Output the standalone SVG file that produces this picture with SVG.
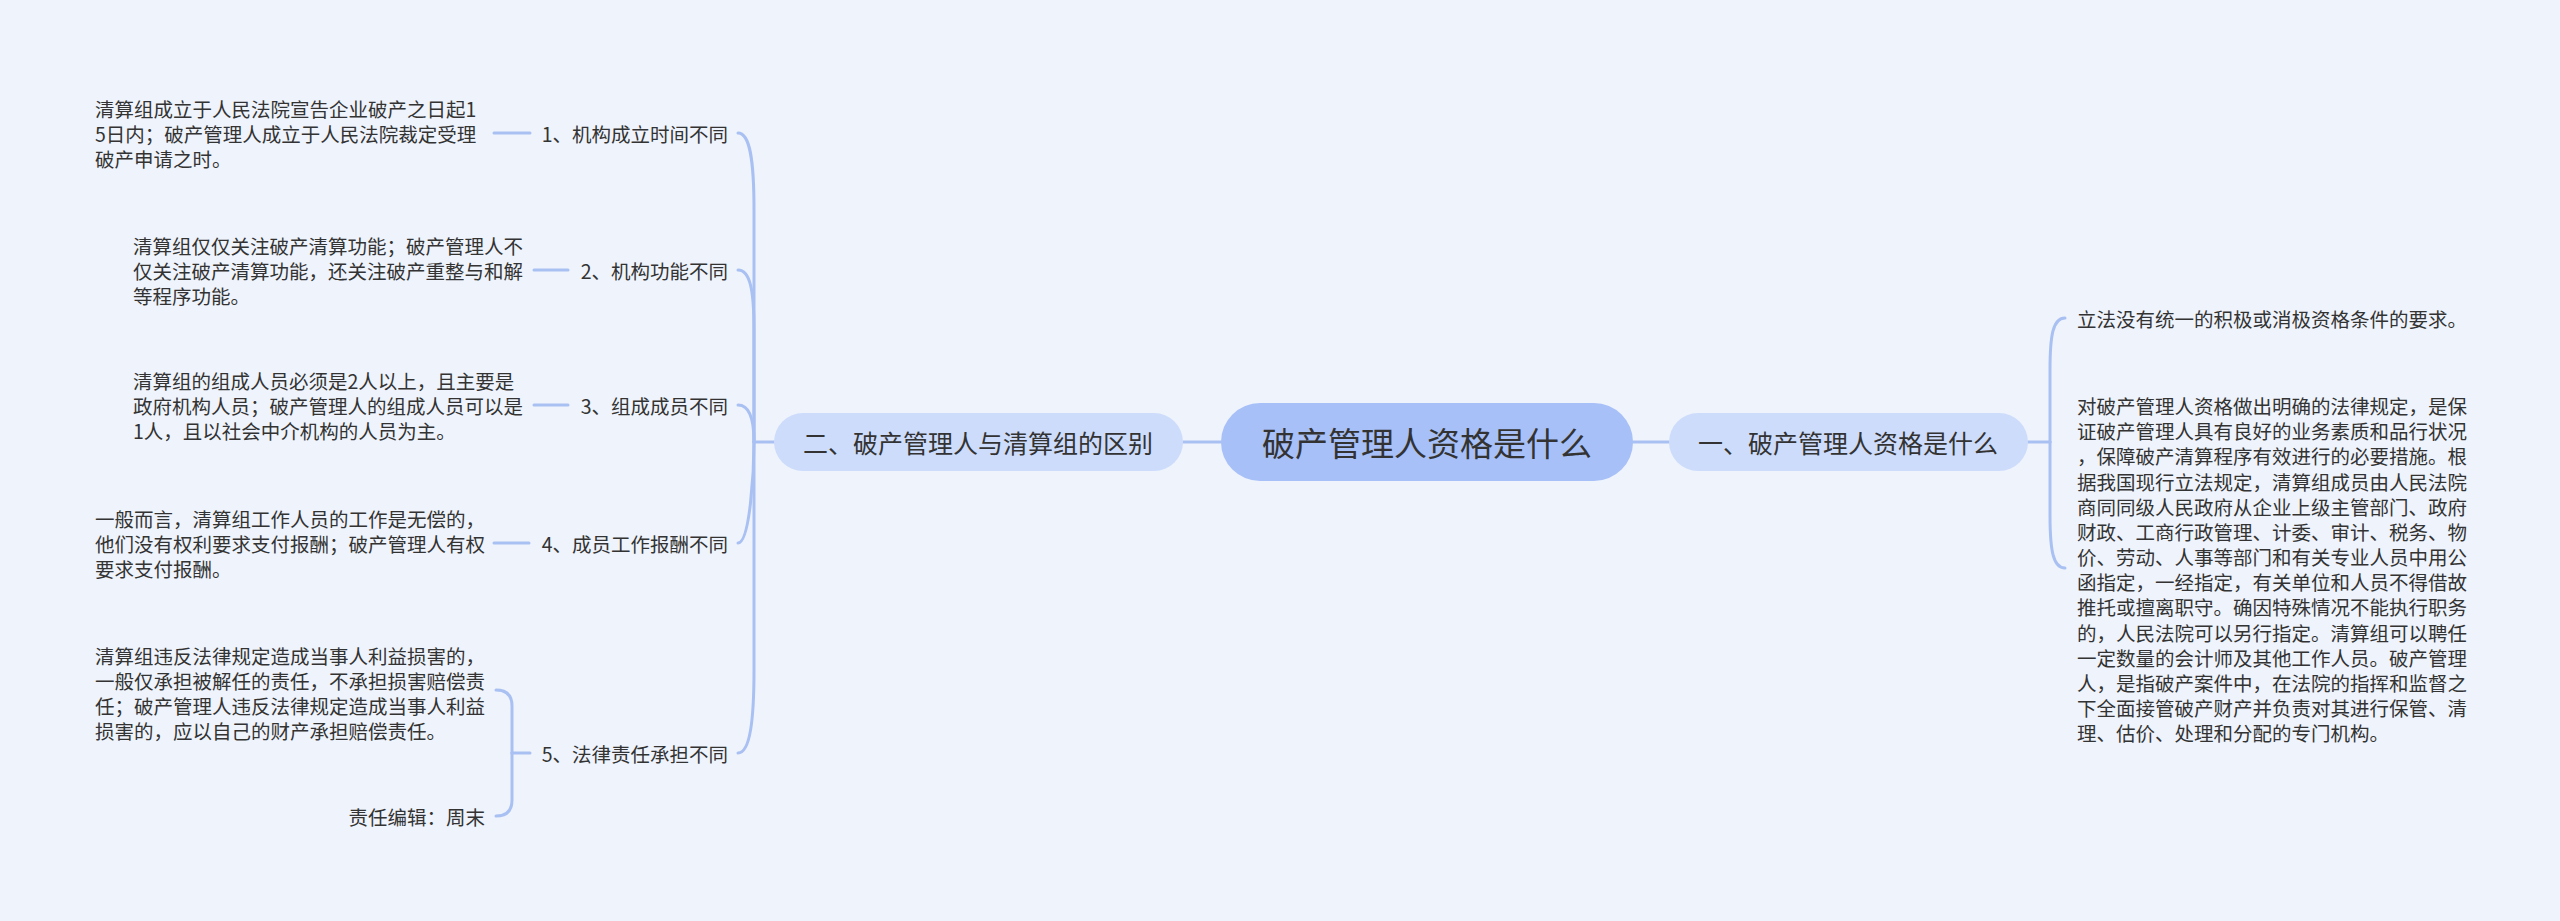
<svg xmlns="http://www.w3.org/2000/svg" width="2560" height="921" viewBox="0 0 2560 921">
<style>
.t{font-family:"Noto Sans CJK SC","Noto Sans",sans-serif;fill:#333333;dominant-baseline:central}
.s{font-size:19.5px}
.m{font-size:25px}
.c{font-size:33px}
.ln{fill:none;stroke:#a9c0f2;stroke-width:3;stroke-linecap:round}
</style>
<rect x="0" y="0" width="2560" height="921" fill="#eff3fc"/>
<g id="connectors" class="ln">
<path d="M1183 442 H1221"/>
<path d="M1633 442 H1669"/>
<path d="M774 442 H754"/>
<path d="M754 442 V210 C754 160 750 133 738 133"/>
<path d="M754 442 V330 C754 290 750 270 738 270"/>
<path d="M754 442 C754 420 750 405 738 405"/>
<path d="M754 442 C754 470 750 543 738 543"/>
<path d="M754 442 V670 C754 720 750 753 738 753"/>
<path d="M530 133 H494"/>
<path d="M568 270 H534"/>
<path d="M568 405 H534"/>
<path d="M529 543 H494"/>
<path d="M530 753 H512"/>
<path d="M512 753 V706 Q512 690 496 690"/>
<path d="M512 753 V800 Q512 816 496 816"/>
<path d="M2028 442 H2050"/>
<path d="M2050 442 V370 C2050 335 2053 318 2065 318"/>
<path d="M2050 442 V515 C2050 550 2053 568 2065 568"/>
</g>
<g id="center">
<rect x="1221" y="403" width="412" height="78" rx="39" fill="#a7c0f8"/>
<text class="t c" x="1427" y="442" text-anchor="middle">破产管理人资格是什么</text>
</g>
<g id="node-er">
<rect x="774" y="413" width="409" height="58" rx="29" fill="#cddcfb"/>
<text class="t m" x="978" y="442" text-anchor="middle">二、破产管理人与清算组的区别</text>
</g>
<g id="node-yi">
<rect x="1669" y="413" width="359" height="58" rx="29" fill="#cddcfb"/>
<text class="t m" x="1848" y="442" text-anchor="middle">一、破产管理人资格是什么</text>
</g>
<g id="label-1"><text class="t s" x="728" y="133" text-anchor="end">1、机构成立时间不同</text></g>
<g id="label-2"><text class="t s" x="728" y="270" text-anchor="end">2、机构功能不同</text></g>
<g id="label-3"><text class="t s" x="728" y="405" text-anchor="end">3、组成成员不同</text></g>
<g id="label-4"><text class="t s" x="728" y="543" text-anchor="end">4、成员工作报酬不同</text></g>
<g id="label-5"><text class="t s" x="728" y="753" text-anchor="end">5、法律责任承担不同</text></g>
<g id="text-1"><text class="t s">
<tspan x="95" y="108">清算组成立于人民法院宣告企业破产之日起1</tspan>
<tspan x="95" y="133">5日内；破产管理人成立于人民法院裁定受理</tspan>
<tspan x="95" y="158">破产申请之时。</tspan>
</text></g>
<g id="text-2"><text class="t s">
<tspan x="133" y="245">清算组仅仅关注破产清算功能；破产管理人不</tspan>
<tspan x="133" y="270">仅关注破产清算功能，还关注破产重整与和解</tspan>
<tspan x="133" y="295">等程序功能。</tspan>
</text></g>
<g id="text-3"><text class="t s">
<tspan x="133" y="380">清算组的组成人员必须是2人以上，且主要是</tspan>
<tspan x="133" y="405">政府机构人员；破产管理人的组成人员可以是</tspan>
<tspan x="133" y="430">1人，且以社会中介机构的人员为主。</tspan>
</text></g>
<g id="text-4"><text class="t s">
<tspan x="95" y="518">一般而言，清算组工作人员的工作是无偿的，</tspan>
<tspan x="95" y="543">他们没有权利要求支付报酬；破产管理人有权</tspan>
<tspan x="95" y="568">要求支付报酬。</tspan>
</text></g>
<g id="text-5"><text class="t s">
<tspan x="95" y="655">清算组违反法律规定造成当事人利益损害的，</tspan>
<tspan x="95" y="680">一般仅承担被解任的责任，不承担损害赔偿责</tspan>
<tspan x="95" y="705">任；破产管理人违反法律规定造成当事人利益</tspan>
<tspan x="95" y="730">损害的，应以自己的财产承担赔偿责任。</tspan>
</text></g>
<g id="editor"><text class="t s" x="485" y="816" text-anchor="end">责任编辑：周末</text></g>
<g id="text-r1"><text class="t s" x="2077" y="318">立法没有统一的积极或消极资格条件的要求。</text></g>
<g id="text-r2"><text class="t s">
<tspan x="2077" y="405">对破产管理人资格做出明确的法律规定，是保</tspan>
<tspan x="2077" y="430">证破产管理人具有良好的业务素质和品行状况</tspan>
<tspan x="2077" y="455">，保障破产清算程序有效进行的必要措施。根</tspan>
<tspan x="2077" y="480.5">据我国现行立法规定，清算组成员由人民法院</tspan>
<tspan x="2077" y="505.5">商同同级人民政府从企业上级主管部门、政府</tspan>
<tspan x="2077" y="531">财政、工商行政管理、计委、审计、税务、物</tspan>
<tspan x="2077" y="556">价、劳动、人事等部门和有关专业人员中用公</tspan>
<tspan x="2077" y="581">函指定，一经指定，有关单位和人员不得借故</tspan>
<tspan x="2077" y="606">推托或擅离职守。确因特殊情况不能执行职务</tspan>
<tspan x="2077" y="631.5">的，人民法院可以另行指定。清算组可以聘任</tspan>
<tspan x="2077" y="656.5">一定数量的会计师及其他工作人员。破产管理</tspan>
<tspan x="2077" y="681.5">人，是指破产案件中，在法院的指挥和监督之</tspan>
<tspan x="2077" y="707">下全面接管破产财产并负责对其进行保管、清</tspan>
<tspan x="2077" y="732">理、估价、处理和分配的专门机构。</tspan>
</text></g>
</svg>
